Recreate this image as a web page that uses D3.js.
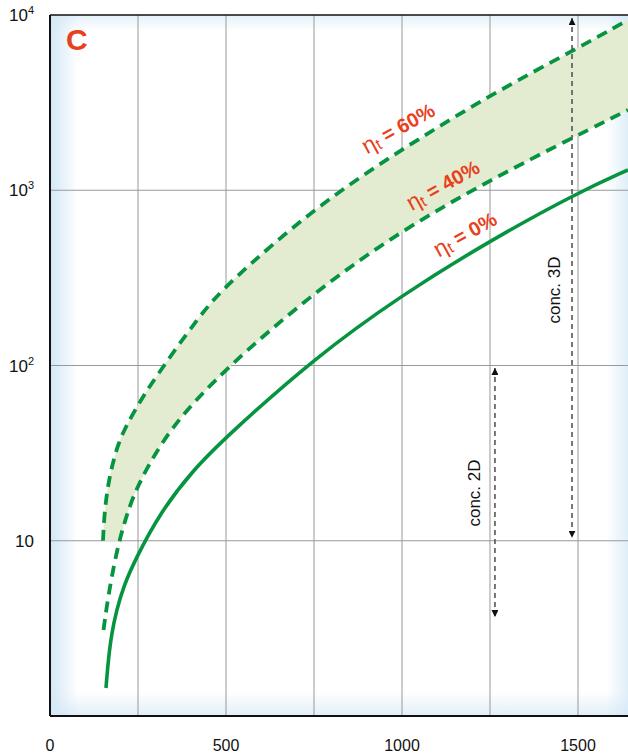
<!DOCTYPE html>
<html>
<head>
<meta charset="utf-8">
<script src="https://cdn.jsdelivr.net/npm/d3@7"></script>
<style>
  body { margin: 0; background: #fff; }
  svg { display: block; font-family: "Liberation Sans", Arial, sans-serif; }
</style>
</head>
<body>
<svg id="chart" width="628" height="755"></svg>
<script>
// values (x in plain units, y on log scale)
var x0 = [159, 165.6, 175.3, 189.5, 208.2, 241.5, 312, 406, 500, 750, 1000, 1250, 1500, 1642];
var eta0 = [1.445, 2.09, 2.98, 4.03, 5.45, 7.77, 14.4, 25.3, 39.1, 110, 253, 516, 971, 1306];

var x40 = [152, 160.5, 173.3, 196, 221.6, 250, 341, 500, 750, 1000, 1250, 1500, 1642];
var eta40 = [3.1, 4.13, 5.97, 9.97, 14.8, 21.1, 44.6, 96.8, 262, 593, 1144, 2067, 2871];

var x60 = [150.6, 153.4, 159, 167.6, 179, 193, 213, 250, 290, 426, 500, 750, 1000, 1250, 1500, 1642];
var eta60 = [10, 13.1, 17.1, 22.2, 28.1, 35.2, 44, 59.5, 80.5, 194, 288, 792, 1719, 3494, 6485, 9360];

var xTicks = [0, 500, 1000, 1500];
var xGrid = [250, 500, 750, 1000, 1250, 1500];
var yTicks = [10000, 1000, 100, 10];
var yTickLabels = [["10", "4"], ["10", "3"], ["10", "2"], ["10", ""]];

var labels = [
  {text: " = 60%", x: 989, y: 2265},
  {text: " = 40%", x: 1116, y: 1072},
  {text: " = 0%", x: 1179, y: 563}
];

// conc. arrows: [x, yFrom, yTo]
var arrow3D = [1483, 9600, 10.4];
var arrow2D = [1264, 96.8, 3.67];

var svg = d3.select("#chart"),
    margin = {top: 15, right: 0, bottom: 39, left: 50},
    width = +svg.attr("width") - margin.left - margin.right,
    height = +svg.attr("height") - margin.top - margin.bottom;

var x = d3.scaleLinear().domain([0, 1642]).range([margin.left, margin.left + width]);
var y = d3.scaleLog().domain([1, 10000]).range([margin.top + height, margin.top]);

var green = "#079440", red = "#e8401c";

var defs = svg.append("defs");

function edgeGrad(id, x1, y1, x2, y2) {
  var gr = defs.append("linearGradient").attr("id", id)
      .attr("x1", x1).attr("y1", y1).attr("x2", x2).attr("y2", y2);
  gr.append("stop").attr("offset", 0).attr("stop-color", "#d2e7f6").attr("stop-opacity", 1);
  gr.append("stop").attr("offset", 1).attr("stop-color", "#d2e7f6").attr("stop-opacity", 0);
}
edgeGrad("gl", 0, 0, 1, 0);
edgeGrad("gr", 1, 0, 0, 0);
edgeGrad("gt", 0, 0, 0, 1);
edgeGrad("gb", 0, 1, 0, 0);

defs.append("clipPath").attr("id", "plot")
  .append("rect").attr("x", margin.left).attr("y", margin.top)
  .attr("width", width).attr("height", height);
defs.append("clipPath").attr("id", "above10")
  .append("rect").attr("x", margin.left).attr("y", margin.top)
  .attr("width", width).attr("height", y(10) - margin.top);

defs.append("marker").attr("id", "head")
    .attr("viewBox", "0 0 10 10").attr("refX", 10).attr("refY", 5)
    .attr("markerWidth", 7).attr("markerHeight", 7)
    .attr("markerUnits", "userSpaceOnUse")
    .attr("orient", "auto-start-reverse")
  .append("path").attr("d", "M0,0L10,5L0,10z").attr("fill", "#111");

// background with soft blue edges
var bg = svg.append("g");
bg.append("rect").attr("x", margin.left).attr("y", margin.top)
  .attr("width", width).attr("height", height).attr("fill", "#fff");
bg.append("rect").attr("x", margin.left).attr("y", margin.top).attr("width", 28).attr("height", height).attr("fill", "url(#gl)");
bg.append("rect").attr("x", margin.left + width - 22).attr("y", margin.top).attr("width", 22).attr("height", height).attr("fill", "url(#gr)").attr("opacity", 0.7);
bg.append("rect").attr("x", margin.left).attr("y", margin.top).attr("width", width).attr("height", 16).attr("fill", "url(#gt)").attr("opacity", 0.6);
bg.append("rect").attr("x", margin.left).attr("y", margin.top + height - 24).attr("width", width).attr("height", 24).attr("fill", "url(#gb)").attr("opacity", 0.7);

// grid
var grid = svg.append("g").attr("stroke", "#999").attr("stroke-width", 1);
grid.selectAll("line.v").data(xGrid).enter().append("line")
  .attr("x1", function(d) { return x(d); }).attr("x2", function(d) { return x(d); })
  .attr("y1", margin.top).attr("y2", margin.top + height);
grid.selectAll("line.h").data([10, 100, 1000]).enter().append("line")
  .attr("x1", margin.left).attr("x2", margin.left + width)
  .attr("y1", function(d) { return y(d); }).attr("y2", function(d) { return y(d); });

var toPts = function(xs, ys) { return xs.map(function(d, i) { return [d, ys[i]]; }); };
var p0 = toPts(x0, eta0), p40 = toPts(x40, eta40), p60 = toPts(x60, eta60);

var line = d3.line()
    .x(function(d) { return x(d[0]); })
    .y(function(d) { return y(d[1]); })
    .curve(d3.curveBasis);

var plot = svg.append("g").attr("clip-path", "url(#plot)");

// band between 40% and 60%
var band = line(p60) + "L" + line(p40.slice().reverse()).slice(1) + "Z";
plot.append("path").attr("d", band).attr("fill", "#e3ecd0")
  .attr("clip-path", "url(#above10)");

plot.append("path").attr("d", line(p0)).attr("fill", "none")
  .attr("stroke", green).attr("stroke-width", 3.6);
plot.selectAll("path.dash").data([p40, p60]).enter().append("path")
  .attr("d", line).attr("fill", "none")
  .attr("stroke", green).attr("stroke-width", 3.8)
  .attr("stroke-dasharray", "11,7");

// conc. arrows
[arrow3D, arrow2D].forEach(function(a) {
  svg.append("line")
    .attr("x1", x(a[0])).attr("x2", x(a[0]))
    .attr("y1", y(a[1])).attr("y2", y(a[2]))
    .attr("stroke", "#555").attr("stroke-width", 1.6)
    .attr("stroke-dasharray", "5,4")
    .attr("marker-start", "url(#head)").attr("marker-end", "url(#head)");
});
svg.append("text")
  .attr("transform", "translate(" + (x(arrow3D[0]) - 18) + "," + 290 + ") rotate(-90)")
  .attr("text-anchor", "middle").attr("dominant-baseline", "central")
  .attr("font-size", 17).attr("fill", "#111").text("conc. 3D");
svg.append("text")
  .attr("transform", "translate(" + (x(arrow2D[0]) - 20) + "," + 493 + ") rotate(-90)")
  .attr("text-anchor", "middle").attr("dominant-baseline", "central")
  .attr("font-size", 17).attr("fill", "#111").text("conc. 2D");

// eta labels
var lab = svg.append("g").attr("fill", red).attr("font-weight", "bold").attr("font-size", 20)
  .selectAll("text").data(labels).enter().append("text")
  .attr("transform", function(d) { return "translate(" + x(d.x) + "," + y(d.y) + ") rotate(-29)"; })
  .attr("text-anchor", "middle").attr("dominant-baseline", "central");
lab.append("tspan").attr("font-weight", "normal").attr("font-size", 23).text("η");
lab.append("tspan").attr("dy", 4).attr("font-size", 16).attr("font-weight", "normal").text("t");
lab.append("tspan").attr("dy", -4).text(function(d) { return d.text; });

// panel letter
svg.append("text").attr("x", 66).attr("y", 50)
  .attr("font-size", 30).attr("font-weight", "bold").attr("fill", red).text("C");

// axes frame
svg.append("line").attr("x1", margin.left).attr("x2", margin.left + width)
  .attr("y1", margin.top).attr("y2", margin.top).attr("stroke", "#111").attr("stroke-width", 1.5);
svg.append("line").attr("x1", margin.left).attr("x2", margin.left)
  .attr("y1", margin.top).attr("y2", margin.top + height).attr("stroke", "#111").attr("stroke-width", 2);
svg.append("line").attr("x1", margin.left).attr("x2", margin.left + width)
  .attr("y1", margin.top + height).attr("y2", margin.top + height).attr("stroke", "#111").attr("stroke-width", 2);

// tick labels
svg.append("g").attr("font-size", 16).attr("text-anchor", "middle").attr("fill", "#111")
  .selectAll("text").data(xTicks).enter().append("text")
  .attr("x", function(d) { return x(d); }).attr("y", 751)
  .text(function(d) { return d; });

var yl = svg.append("g").attr("font-size", 17).attr("text-anchor", "end").attr("fill", "#111")
  .selectAll("text").data(yTicks).enter().append("text")
  .attr("x", 34).attr("y", function(d) { return y(d) + 6; });
yl.append("tspan").text(function(d, i) { return yTickLabels[i][0]; });
yl.append("tspan").attr("dy", -7).attr("font-size", 11).text(function(d, i) { return yTickLabels[i][1]; });
</script>
</body>
</html>
